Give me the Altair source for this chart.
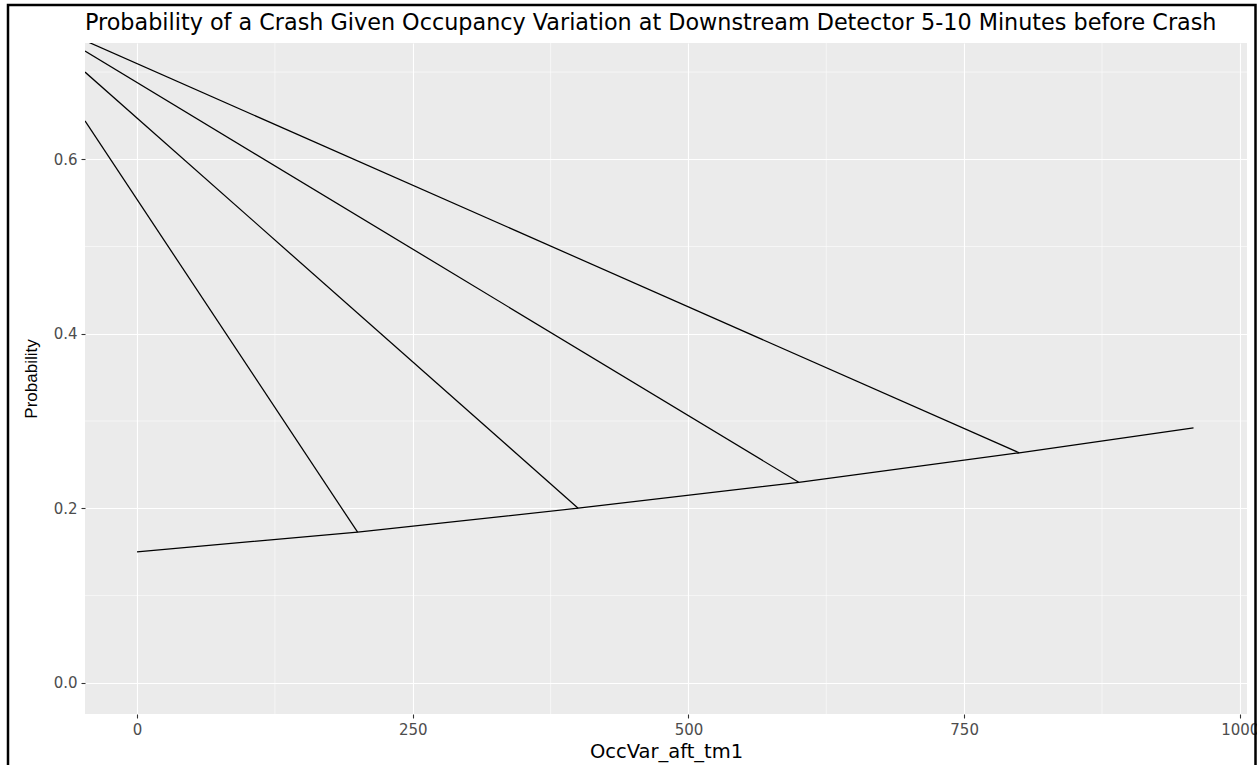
import altair as alt
import pandas as pd

# ---- data ----
# main curve: probability vs OccVar_aft_tm1
main_x = [0, 200, 400, 600, 800, 958]
main_y = [0.150, 0.1725, 0.200, 0.2297, 0.2635, 0.292]

# four straight segments running from the upper-left into the main curve
seg_start_x = [-47.2, -47.2, -47.2, -47.2]
seg_start_y = [0.644, 0.700, 0.724, 0.736]
seg_end_x = [200, 400, 600, 800]
seg_end_y = [0.1725, 0.200, 0.2297, 0.2635]

x_major = [0, 250, 500, 750, 1000]
x_minor = [125, 375, 625, 875]
y_major = [0.0, 0.2, 0.4, 0.6]
y_minor = [0.1, 0.3, 0.5, 0.7]

X_DOMAIN = [-47.2, 1006.5]
Y_DOMAIN = [-0.0359, 0.7333]

rows = []
for i, (xv, yv) in enumerate(zip(main_x, main_y)):
    rows.append({"x": xv, "y": yv, "grp": "main", "ord": i})
for k in range(len(seg_end_x)):
    rows.append({"x": seg_start_x[k], "y": seg_start_y[k], "grp": f"s{k}", "ord": 0})
    rows.append({"x": seg_end_x[k], "y": seg_end_y[k], "grp": f"s{k}", "ord": 1})
df = pd.DataFrame(rows)

LABEL_FONT = "DejaVu Sans"
xscale = alt.Scale(domain=X_DOMAIN, nice=False, zero=False)
yscale = alt.Scale(domain=Y_DOMAIN, nice=False, zero=False)

minor_x_rules = alt.Chart(pd.DataFrame({"v": x_minor})).mark_rule(
    color="white", strokeWidth=0.55
).encode(x=alt.X("v:Q", scale=xscale))

minor_y_rules = alt.Chart(pd.DataFrame({"v": y_minor})).mark_rule(
    color="white", strokeWidth=0.55
).encode(y=alt.Y("v:Q", scale=yscale))

lines = alt.Chart(df).mark_line(color="black", strokeWidth=1.25, clip=True).encode(
    x=alt.X(
        "x:Q",
        scale=xscale,
        axis=alt.Axis(
            values=x_major,
            format="d",
            title="OccVar_aft_tm1",
            titleFont=LABEL_FONT,
            titleFontSize=19.5,
            titleFontWeight="normal",
            titleColor="black",
            titlePadding=5,
            labelFont=LABEL_FONT,
            labelFontSize=15,
            labelColor="#4D4D4D",
            labelPadding=4,
            tickSize=4,
            tickColor="#333333",
            tickWidth=1.1,
            domain=False,
            grid=True,
            gridColor="white",
            gridWidth=1.1,
        ),
    ),
    y=alt.Y(
        "y:Q",
        scale=yscale,
        axis=alt.Axis(
            values=y_major,
            format=".1f",
            title="Probability",
            titleFont="Liberation Sans Narrow, Liberation Sans",
            titleFontSize=17,
            titleFontWeight="normal",
            titleColor="black",
            titlePadding=13,
            labelFont=LABEL_FONT,
            labelFontSize=15,
            labelColor="#4D4D4D",
            labelPadding=4,
            tickSize=4,
            tickColor="#333333",
            tickWidth=1.1,
            domain=False,
            grid=True,
            gridColor="white",
            gridWidth=1.1,
        ),
    ),
    detail="grp:N",
    order="ord:Q",
)

frame = alt.Chart(pd.DataFrame({"a": [1]})).mark_rect(
    fillOpacity=0, stroke="black", strokeWidth=2.5, clip=False
).encode(
    x=alt.value(-77), x2=alt.value(1170.5), y=alt.value(-38), y2=alt.value(740)
)

chart = (
    alt.layer(minor_x_rules, minor_y_rules, lines, frame)
    .properties(
        width=1162,
        height=671,
        autosize=alt.AutoSizeParams(type="none"),
        padding={"left": 85, "top": 43, "right": 10, "bottom": 51},
        background="white",
        title=alt.TitleParams(
            text="Probability of a Crash Given Occupancy Variation at Downstream Detector 5-10 Minutes before Crash",
            anchor="start",
            frame="group",
            font=LABEL_FONT,
            fontSize=22.3,
            fontWeight="normal",
            color="black",
            offset=8,
            dy=39,
        ),
    )
    .configure_view(fill="#EBEBEB", strokeWidth=0)
)

chart.save("out.html", embed_options={"renderer": "svg", "actions": False})
